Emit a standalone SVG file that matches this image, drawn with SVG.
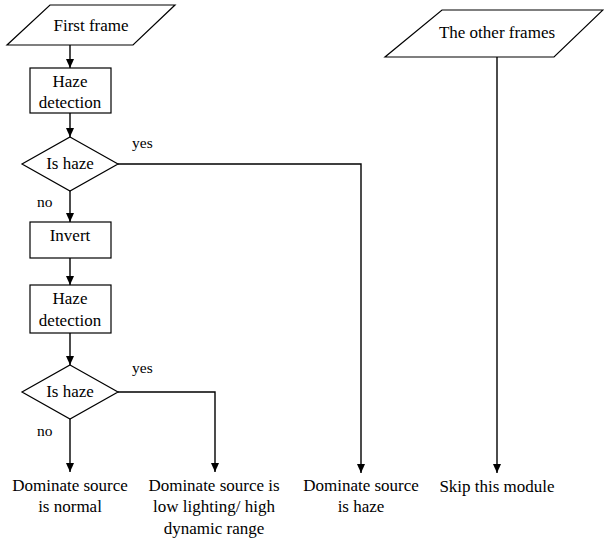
<svg xmlns="http://www.w3.org/2000/svg" width="604" height="541" viewBox="0 0 604 541">
<defs>
<marker id="arr" markerWidth="10" markerHeight="10" refX="9" refY="5" orient="auto" markerUnits="userSpaceOnUse">
<path d="M0,1 L9,5 L0,9 Z" fill="#000"/>
</marker>
</defs>
<rect width="604" height="541" fill="#fff"/>
<g id="connectors" fill="none" stroke="#000" stroke-width="1.4">
<path d="M70,45 V68" marker-end="url(#arr)"/>
<path d="M70,113 V137" marker-end="url(#arr)"/>
<path d="M70,191 V222" marker-end="url(#arr)"/>
<path d="M70,258 V285" marker-end="url(#arr)"/>
<path d="M70,333 V365" marker-end="url(#arr)"/>
<path d="M70,419 V472" marker-end="url(#arr)"/>
<path d="M118,392 H215 V472" marker-end="url(#arr)"/>
<path d="M118,164 H361 V473" marker-end="url(#arr)"/>
<path d="M497,57 V473" marker-end="url(#arr)"/>
</g>
<g id="labels">
<text x="132" y="148" font-family="Times New Roman" font-size="15.5">yes</text>
<text x="37" y="207" font-family="Times New Roman" font-size="15.5">no</text>
<text x="132" y="373" font-family="Times New Roman" font-size="15.5">yes</text>
<text x="37" y="436" font-family="Times New Roman" font-size="15.5">no</text>
</g>
<g id="first-frame">
<polygon points="50,5 175,5 133,45 7,45" fill="#fff" stroke="#000" stroke-width="1.2"/>
<text x="91" y="31" font-family="Times New Roman" font-size="17" text-anchor="middle">First frame</text>
</g>
<g id="haze-detection-1">
<rect x="30" y="68" width="81" height="45" fill="#fff" stroke="#000" stroke-width="1.2"/>
<text x="70" y="87" font-family="Times New Roman" font-size="17" text-anchor="middle">Haze</text>
<text x="70" y="108" font-family="Times New Roman" font-size="17" text-anchor="middle">detection</text>
</g>
<g id="is-haze-1">
<polygon points="70,137 118,164 70,191 22,164" fill="#fff" stroke="#000" stroke-width="1.2"/>
<text x="70" y="169" font-family="Times New Roman" font-size="17" text-anchor="middle">Is haze</text>
</g>
<g id="invert">
<rect x="30" y="222" width="81" height="36" fill="#fff" stroke="#000" stroke-width="1.2"/>
<text x="70" y="241" font-family="Times New Roman" font-size="17" text-anchor="middle">Invert</text>
</g>
<g id="haze-detection-2">
<rect x="30" y="285" width="81" height="48" fill="#fff" stroke="#000" stroke-width="1.2"/>
<text x="70" y="304" font-family="Times New Roman" font-size="17" text-anchor="middle">Haze</text>
<text x="70" y="326" font-family="Times New Roman" font-size="17" text-anchor="middle">detection</text>
</g>
<g id="is-haze-2">
<polygon points="70,365 118,392 70,419 22,392" fill="#fff" stroke="#000" stroke-width="1.2"/>
<text x="70" y="397" font-family="Times New Roman" font-size="17" text-anchor="middle">Is haze</text>
</g>
<g id="normal">
<text x="70" y="491" font-family="Times New Roman" font-size="17" text-anchor="middle">Dominate source</text>
<text x="70" y="512" font-family="Times New Roman" font-size="17" text-anchor="middle">is normal</text>
</g>
<g id="low-lighting">
<text x="214" y="491" font-family="Times New Roman" font-size="17" text-anchor="middle">Dominate source is</text>
<text x="214" y="512" font-family="Times New Roman" font-size="17" text-anchor="middle">low lighting/ high</text>
<text x="214" y="534" font-family="Times New Roman" font-size="17" text-anchor="middle">dynamic range</text>
</g>
<g id="haze">
<text x="361" y="491" font-family="Times New Roman" font-size="17" text-anchor="middle">Dominate source</text>
<text x="361" y="512" font-family="Times New Roman" font-size="17" text-anchor="middle">is haze</text>
</g>
<g id="other-frames">
<polygon points="442,10 603,10 554,57 385,57" fill="#fff" stroke="#000" stroke-width="1.2"/>
<text x="497" y="38" font-family="Times New Roman" font-size="17" text-anchor="middle">The other frames</text>
</g>
<g id="skip">
<text x="497" y="492" font-family="Times New Roman" font-size="17" text-anchor="middle">Skip this module</text>
</g>
</svg>
